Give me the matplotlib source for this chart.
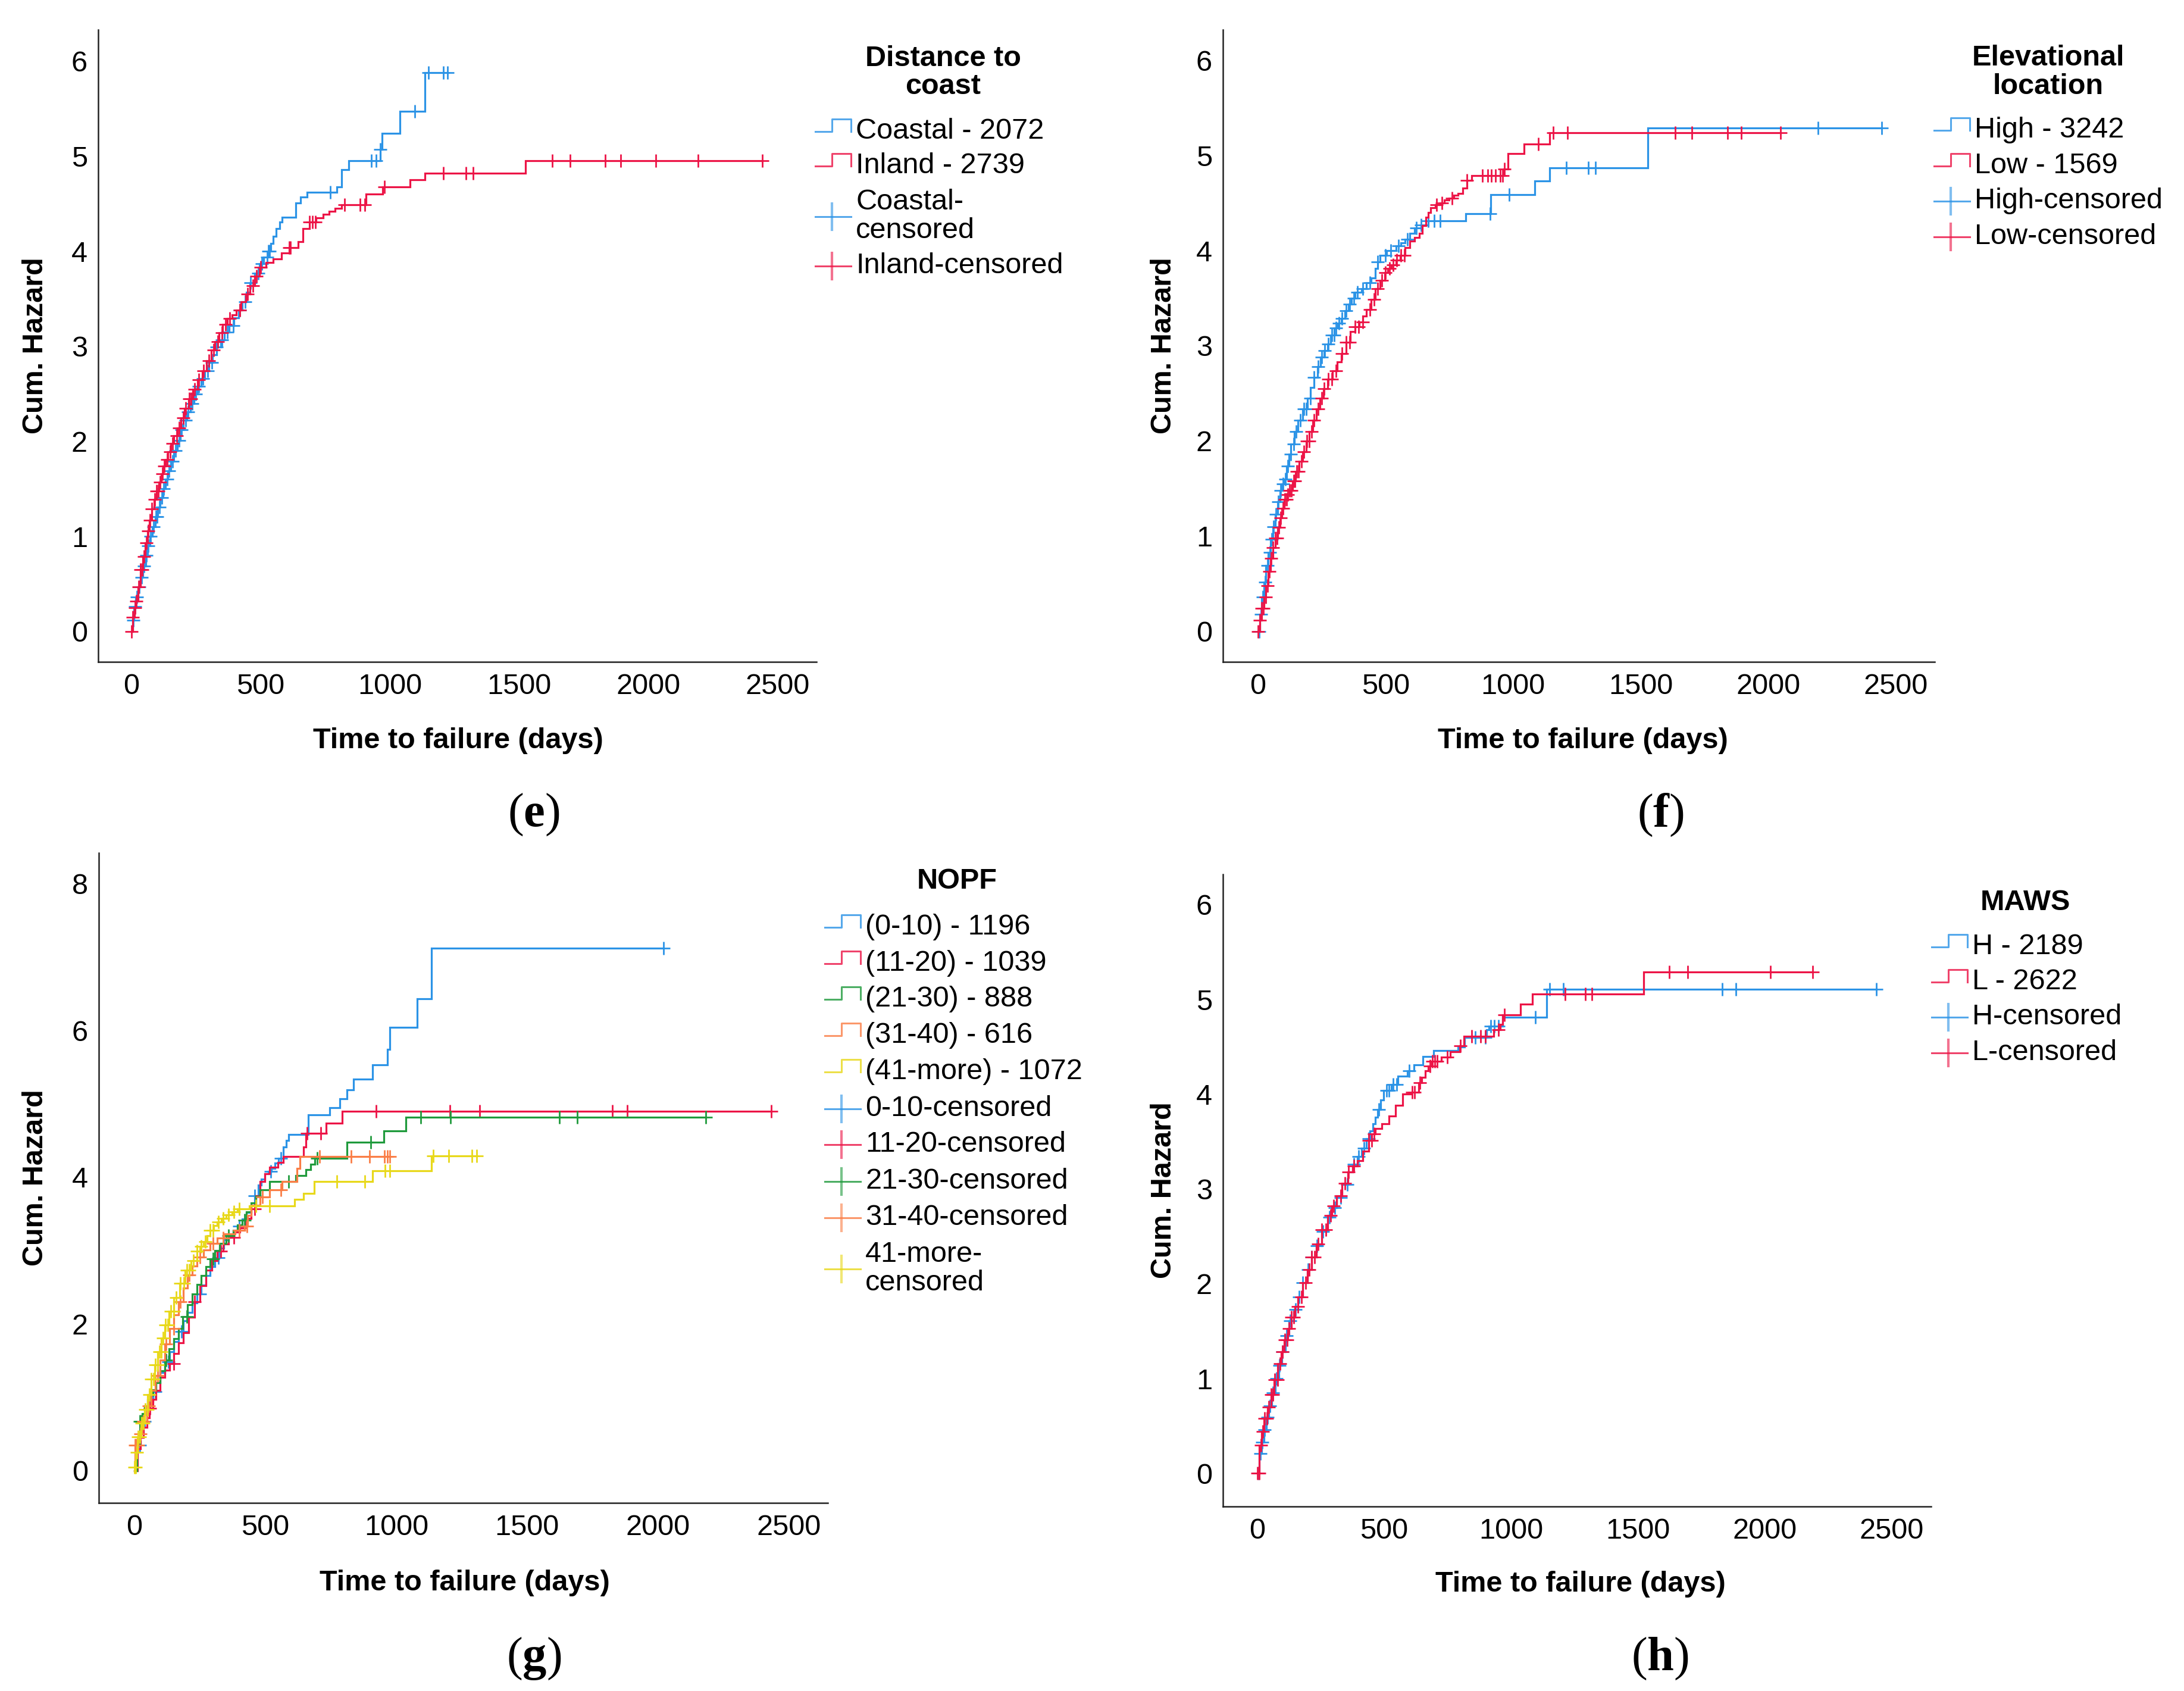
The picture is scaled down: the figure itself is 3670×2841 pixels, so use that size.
import numpy as np
import matplotlib
matplotlib.use('Agg')
import matplotlib.pyplot as plt
from matplotlib.lines import Line2D

# ---------------- DATA ----------------
x_ticks = [0, 500, 1000, 1500, 2000, 2500]
y_ticks_6 = [0, 1, 2, 3, 4, 5, 6]
y_ticks_8 = [0, 2, 4, 6, 8]

# (e) Distance to coast
e_coastal_t = [0, 5, 10, 18, 26, 35, 45, 55, 64, 73, 82, 92, 102, 112, 122, 132, 142, 153, 165, 177,
               190, 202, 214, 228, 242, 256, 270, 285, 300, 315, 330, 345, 360, 378, 396, 415, 430, 445,
               460, 478, 495, 512, 530, 540, 548, 560, 575, 583, 636, 654, 680, 796, 813, 840, 964, 969,
               1038, 1135]
e_coastal_h = [0, 0.12, 0.26, 0.36, 0.47, 0.57, 0.69, 0.80, 0.90, 1.00, 1.10, 1.21, 1.31, 1.41, 1.50, 1.60,
               1.69, 1.79, 1.90, 2.01, 2.12, 2.22, 2.31, 2.40, 2.50, 2.58, 2.66, 2.74, 2.83, 2.91, 2.99, 3.07,
               3.15, 3.22, 3.30, 3.38, 3.47, 3.57, 3.67, 3.77, 3.87, 3.94, 4.00, 4.08, 4.16, 4.24, 4.31, 4.36,
               4.51, 4.57, 4.62, 4.68, 4.86, 4.95, 5.07, 5.24, 5.47, 5.88]
e_coastal_end = 1223
e_coastal_cens = [8, 15, 22, 30, 40, 50, 58, 66, 75, 85, 95, 100, 108, 118, 125, 138, 145, 160, 172, 185,
                  195, 210, 220, 235, 250, 262, 278, 295, 312, 330, 350, 372, 395, 420, 440, 462, 490, 505,
                  525, 530, 535, 769, 928, 946, 964, 1096, 1149, 1207, 1223]

e_inland_t = [0, 6, 12, 18, 26, 35, 44, 53, 62, 71, 80, 88, 97, 106, 115, 124, 133, 141, 153, 165, 177,
              192, 206, 221, 238, 256, 274, 291, 309, 324, 339, 354, 372, 390, 407, 425, 442, 460, 478, 495,
              520, 548, 580, 610, 645, 663, 690, 715, 743, 765, 787, 813, 907, 972, 1079, 1135, 1524]
e_inland_h = [0, 0.15, 0.25, 0.32, 0.47, 0.65, 0.79, 0.93, 1.06, 1.17, 1.29, 1.39, 1.48, 1.57, 1.66, 1.74,
              1.81, 1.89, 1.98, 2.06, 2.14, 2.25, 2.35, 2.45, 2.55, 2.65, 2.74, 2.85, 2.96, 3.05, 3.14, 3.23,
              3.29, 3.33, 3.38, 3.47, 3.55, 3.64, 3.74, 3.83, 3.88, 3.92, 3.98, 4.04, 4.10, 4.24, 4.31, 4.35,
              4.39, 4.42, 4.45, 4.49, 4.60, 4.68, 4.75, 4.82, 4.95]
e_inland_end = 2440
e_inland_cens = [0, 6, 14, 20, 28, 36, 42, 50, 58, 66, 72, 80, 90, 98, 105, 112, 120, 128, 140, 150, 160,
                 175, 185, 200, 210, 225, 232, 245, 260, 280, 300, 318, 335, 350, 365, 380, 420, 450, 470,
                 485, 500, 610, 615, 690, 700, 712, 826, 884, 902, 978, 1207, 1294, 1321, 1627, 1697, 1833,
                 1892, 2028, 2192, 2440]

# (f) Elevational location
f_high_t = [0, 7, 14, 23, 32, 41, 50, 59, 68, 77, 86, 95, 104, 113, 121, 130, 143, 157, 175, 193, 206,
            220, 233, 246, 260, 273, 286, 300, 313, 327, 340, 354, 367, 380, 407, 425, 443, 461, 470, 479,
            505, 541, 560, 577, 595, 614, 640, 668, 815, 913, 1085, 1143, 1528]
f_high_h = [0, 0.18, 0.36, 0.52, 0.69, 0.83, 0.97, 1.10, 1.23, 1.36, 1.48, 1.55, 1.60, 1.74, 1.86, 1.97,
            2.10, 2.22, 2.34, 2.45, 2.56, 2.67, 2.78, 2.88, 2.95, 3.02, 3.11, 3.19, 3.24, 3.29, 3.37, 3.44,
            3.50, 3.56, 3.60, 3.66, 3.71, 3.81, 3.88, 3.95, 4.00, 4.05, 4.08, 4.12, 4.18, 4.24, 4.27, 4.31,
            4.39, 4.59, 4.73, 4.87, 5.29]
f_high_end = 2445
f_high_cens = [5, 12, 20, 28, 38, 48, 55, 62, 70, 80, 90, 98, 108, 118, 128, 140, 150, 165, 180, 190, 205,
               220, 235, 250, 262, 275, 290, 298, 305, 318, 330, 345, 360, 375, 390, 410, 440, 470, 500, 520,
               550, 585, 620, 640, 668, 690, 713, 910, 985, 1209, 1295, 1322, 2196, 2445]

f_low_t = [0, 7, 14, 23, 32, 41, 50, 59, 68, 77, 86, 95, 104, 115, 125, 137, 148, 162, 175, 189, 202, 216,
           229, 243, 256, 274, 292, 310, 327, 345, 363, 380, 398, 412, 425, 443, 461, 479, 497, 510, 523,
           541, 559, 577, 595, 614, 632, 645, 659, 668, 677, 695, 713, 731, 749, 767, 784, 802, 820, 838,
           963, 981, 1044, 1143]
f_low_h = [0, 0.12, 0.24, 0.36, 0.48, 0.63, 0.77, 0.88, 0.98, 1.09, 1.19, 1.29, 1.39, 1.44, 1.48, 1.58,
           1.68, 1.79, 1.89, 2.00, 2.10, 2.22, 2.34, 2.45, 2.55, 2.65, 2.74, 2.83, 2.92, 3.04, 3.15, 3.20,
           3.25, 3.31, 3.38, 3.49, 3.60, 3.69, 3.77, 3.81, 3.85, 3.90, 3.95, 4.03, 4.10, 4.14, 4.18, 4.26,
           4.35, 4.40, 4.45, 4.48, 4.50, 4.53, 4.55, 4.58, 4.60, 4.66, 4.74, 4.79, 4.86, 5.02, 5.12, 5.24]
f_low_end = 2047
f_low_cens = [0, 8, 15, 22, 30, 38, 45, 52, 60, 68, 75, 82, 90, 98, 105, 112, 118, 125, 132, 140, 145, 152,
              160, 170, 180, 192, 200, 210, 220, 235, 250, 260, 275, 290, 305, 330, 345, 360, 380, 395, 410,
              440, 455, 470, 485, 500, 515, 530, 545, 560, 575, 700, 720, 760, 820, 880, 900, 915, 930, 950,
              958, 966, 1098, 1157, 1214, 1635, 1701, 1841, 1895, 2047]

# (g) NOPF
g_0_10_t = [0, 12, 24, 35, 47, 58, 70, 82, 99, 116, 134, 151, 168, 186, 203, 220, 238, 255, 273, 290, 307,
            325, 342, 360, 377, 394, 411, 428, 446, 459, 472, 485, 498, 511, 524, 537, 550, 568, 580, 589,
            663, 745, 785, 811, 837, 910, 967, 976, 1080, 1134]
g_0_10_h = [0, 0.35, 0.52, 0.67, 0.83, 0.95, 1.08, 1.20, 1.34, 1.48, 1.62, 1.76, 1.90, 2.04, 2.16, 2.29,
            2.41, 2.53, 2.66, 2.78, 2.90, 3.03, 3.15, 3.21, 3.27, 3.33, 3.43, 3.52, 3.62, 3.75, 3.89, 3.97,
            4.05, 4.08, 4.12, 4.19, 4.26, 4.41, 4.50, 4.58, 4.85, 4.95, 5.07, 5.19, 5.34, 5.53, 5.74, 6.04,
            6.43, 7.12]
g_0_10_end = 2021
g_0_10_cens = [20, 40, 80, 130, 180, 250, 320, 400, 460, 520, 560, 2021]

g_11_20_t = [0, 12, 24, 35, 47, 58, 70, 82, 99, 116, 134, 151, 168, 186, 207, 229, 251, 273, 295, 316, 338,
             359, 381, 403, 424, 446, 463, 481, 498, 516, 547, 568, 646, 655, 733, 793]
g_11_20_h = [0, 0.30, 0.45, 0.59, 0.72, 0.85, 0.97, 1.09, 1.27, 1.37, 1.46, 1.60, 1.74, 1.88, 2.09, 2.30,
             2.52, 2.73, 2.86, 2.99, 3.09, 3.18, 3.25, 3.31, 3.44, 3.57, 3.75, 3.94, 4.05, 4.14, 4.20, 4.28,
             4.41, 4.60, 4.74, 4.90]
g_11_20_end = 2431
g_11_20_cens = [60, 150, 230, 330, 380, 460, 660, 712, 924, 1205, 1319, 1826, 1882, 2431]

g_21_30_t = [0, 10, 21, 30, 40, 50, 60, 70, 82, 99, 116, 133, 150, 168, 185, 203, 220, 238, 255, 273, 290,
             307, 325, 351, 377, 394, 411, 428, 446, 463, 481, 516, 616, 655, 672, 689, 811, 953, 1036]
g_21_30_h = [0, 0.35, 0.67, 0.78, 0.88, 0.96, 1.03, 1.10, 1.20, 1.36, 1.51, 1.66, 1.80, 1.94, 2.10, 2.26,
             2.41, 2.54, 2.66, 2.78, 2.89, 3.00, 3.10, 3.20, 3.28, 3.35, 3.41, 3.53, 3.65, 3.74, 3.83, 3.94,
             4.02, 4.10, 4.18, 4.26, 4.48, 4.63, 4.82]
g_21_30_end = 2182
g_21_30_cens = [21, 25, 120, 200, 300, 360, 420, 590, 698, 903, 1094, 1207, 1622, 1691, 2182]

g_31_40_t = [0, 3, 15, 30, 47, 64, 81, 99, 116, 134, 151, 168, 186, 203, 220, 238, 264, 290, 316, 342, 385,
             420, 433, 446, 481, 516, 564, 620, 632]
g_31_40_h = [0, 0.35, 0.50, 0.67, 0.88, 1.09, 1.30, 1.51, 1.73, 1.94, 2.12, 2.30, 2.49, 2.67, 2.79, 2.91,
             3.01, 3.10, 3.17, 3.23, 3.28, 3.33, 3.48, 3.62, 3.73, 3.83, 3.94, 4.12, 4.28]
g_31_40_end = 976
g_31_40_cens = [3, 8, 14, 22, 35, 55, 90, 120, 150, 175, 210, 250, 300, 340, 400, 430, 490, 560, 707, 828,
                898, 955, 967, 976]

g_41_more_t = [0, 6, 12, 25, 38, 51, 64, 77, 90, 103, 116, 133, 151, 172, 194, 216, 238, 251, 264, 277,
               290, 303, 316, 333, 351, 372, 394, 438, 611, 646, 686, 910, 1135]
g_41_more_h = [0.05, 0.25, 0.46, 0.65, 0.83, 1.04, 1.25, 1.44, 1.62, 1.81, 1.99, 2.17, 2.36, 2.55, 2.73,
               2.86, 2.99, 3.06, 3.12, 3.20, 3.28, 3.34, 3.39, 3.44, 3.49, 3.53, 3.57, 3.61, 3.70, 3.78,
               3.94, 4.09, 4.29]
g_41_more_end = 1306
g_41_more_cens = [0, 5, 10, 15, 20, 28, 35, 42, 50, 58, 65, 72, 80, 88, 95, 102, 110, 118, 128, 140, 150,
                  160, 175, 190, 200, 210, 225, 240, 255, 270, 290, 300, 320, 340, 360, 380, 400, 464, 516,
                  773, 880, 958, 976, 1141, 1201, 1288, 1306]

# (h) MAWS
h_H_t = [0, 9, 18, 27, 36, 45, 58, 72, 85, 98, 112, 125, 143, 161, 179, 197, 215, 233, 255, 277, 295, 313,
         335, 358, 376, 394, 412, 430, 443, 456, 465, 474, 486, 498, 528, 555, 591, 618, 653, 695, 791, 818,
         904, 913, 967, 1140]
h_H_h = [0, 0.21, 0.33, 0.46, 0.59, 0.71, 0.85, 1.00, 1.14, 1.28, 1.45, 1.61, 1.73, 1.86, 2.01, 2.15, 2.28,
         2.40, 2.55, 2.70, 2.80, 2.91, 3.05, 3.18, 3.26, 3.34, 3.43, 3.53, 3.61, 3.69, 3.76, 3.84, 3.94, 4.04,
         4.10, 4.19, 4.25, 4.31, 4.40, 4.46, 4.50, 4.60, 4.68, 4.72, 4.81, 5.11]
h_H_end = 2440
h_H_cens = [5, 12, 20, 30, 40, 50, 62, 75, 88, 100, 115, 130, 150, 165, 180, 200, 215, 235, 260, 285, 305,
            330, 355, 380, 400, 420, 440, 480, 510, 520, 535, 550, 600, 860, 900, 920, 935, 950, 1096, 1151,
            1205, 1831, 1885, 2440]

h_L_t = [0, 9, 18, 27, 40, 54, 67, 81, 94, 107, 121, 134, 148, 161, 179, 197, 215, 233, 255, 277, 295, 313,
         335, 358, 376, 394, 416, 439, 452, 465, 492, 519, 546, 573, 609, 636, 649, 662, 675, 689, 725, 761,
         797, 815, 931, 958, 967, 1038, 1083, 1522]
h_L_h = [0, 0.30, 0.44, 0.58, 0.70, 0.83, 0.99, 1.16, 1.28, 1.41, 1.53, 1.65, 1.76, 1.86, 2.01, 2.15, 2.28,
         2.42, 2.57, 2.72, 2.82, 2.93, 3.06, 3.18, 3.24, 3.30, 3.40, 3.51, 3.58, 3.64, 3.69, 3.77, 3.88, 4.00,
         4.02, 4.12, 4.18, 4.25, 4.30, 4.35, 4.39, 4.45, 4.51, 4.61, 4.68, 4.74, 4.84, 4.95, 5.06, 5.29]
h_L_end = 2188
h_L_cens = [0, 7, 14, 22, 30, 38, 45, 55, 62, 70, 80, 90, 100, 110, 118, 125, 135, 145, 160, 175, 190, 205,
            215, 225, 240, 255, 270, 290, 300, 330, 345, 360, 380, 440, 450, 460, 610, 620, 640, 680, 690, 700,
            710, 750, 800, 845, 880, 900, 950, 975, 1212, 1293, 1319, 1624, 1695, 2023, 2188]

# ---------------- STYLE / LAYOUT ----------------
BLUE = '#2b93e6'
RED = '#ec1446'
GREEN = '#1f9a3c'
ORANGE = '#fa7d45'
YELLOW = '#e8d81a'

W, HP = 3670, 2841
plt.rcParams['font.family'] = ['Liberation Sans', 'DejaVu Sans']
plt.rcParams['mathtext.fontset'] = 'custom'
plt.rcParams['mathtext.rm'] = 'Liberation Serif'
plt.rcParams['mathtext.bf'] = 'Liberation Serif:bold'

FS = 35
BL = 12  # baseline offset from visual text centre (px)
fig = plt.figure(figsize=(W / 100, HP / 100), dpi=100)


def fx(x):
    return x / W


def fy(y):
    return 1 - y / HP


def make_axes(l, t, r, b, xlim, ylim, yticks):
    ax = fig.add_axes([fx(l), fy(b), (r - l) / W, (b - t) / HP])
    ax.set_xlim(*xlim)
    ax.set_ylim(*ylim)
    ax.set_xticks(x_ticks)
    ax.set_yticks(yticks)
    for s in ['top', 'right']:
        ax.spines[s].set_visible(False)
    for s in ['left', 'bottom']:
        ax.spines[s].set_linewidth(1.8)
        ax.spines[s].set_color('#222222')
    ax.tick_params(axis='both', length=0, labelsize=FS)
    ax.tick_params(axis='x', pad=14)
    ax.tick_params(axis='y', pad=13)
    return ax


def plot_series(ax, t, h, end, cens, color, z):
    tt = list(t) + [end]
    hh = list(h) + [h[-1]]
    ax.step(tt, hh, where='post', color=color, lw=2.3, zorder=z, solid_joinstyle='miter')
    idx = np.searchsorted(np.asarray(t), np.asarray(cens), side='right') - 1
    ch = np.asarray(h)[idx]
    ax.plot(cens, ch, linestyle='none', marker='+', markersize=16, markeredgewidth=2.0,
            color=color, zorder=z + 0.5)


def line_handle(tx, yc, color):
    fig.add_artist(Line2D([fx(tx - 68), fx(tx - 40), fx(tx - 40), fx(tx - 8), fx(tx - 8)],
                          [fy(yc), fy(yc), fy(yc - 21), fy(yc - 21), fy(yc)],
                          transform=fig.transFigure, color=color, lw=2.2, alpha=0.8))


def cens_handle(tx, yc, color):
    fig.add_artist(Line2D([fx(tx - 68), fx(tx - 8)], [fy(yc), fy(yc)],
                          transform=fig.transFigure, color=color, lw=2.2, alpha=0.8))
    fig.add_artist(Line2D([fx(tx - 40), fx(tx - 40)], [fy(yc - 22), fy(yc + 22)],
                          transform=fig.transFigure, color=color, lw=3.0, alpha=0.6))


def draw_legend(title_lines, title_x, title_ys, tx, entries):
    for line, ty in zip(title_lines, title_ys):
        fig.text(fx(title_x), fy(ty + BL), line, ha='center', va='baseline',
                 fontsize=FS, fontweight='bold')
    for lines, color, kind, ys in entries:
        for line, ly in zip(lines, ys):
            fig.text(fx(tx), fy(ly + BL), line, ha='left', va='baseline', fontsize=FS)
        yc = sum(ys) / len(ys)
        if kind == 'line':
            line_handle(tx, yc, color)
        else:
            cens_handle(tx, yc, color)


def axis_labels(xl_x, xl_y, yl_x, yl_y):
    fig.text(fx(xl_x), fy(xl_y + BL), 'Time to failure (days)', ha='center', va='baseline',
             fontsize=FS, fontweight='bold')
    fig.text(fx(yl_x), fy(yl_y), 'Cum. Hazard', ha='center', va='center', rotation=90,
             fontsize=FS, fontweight='bold')


def panel_label(x, y, letter):
    fig.text(fx(x), fy(y), r'$\mathrm{(}\mathbf{' + letter + r'}\mathrm{)}$', ha='center',
             va='center', fontsize=58)


# ---- (e)
ax_e = make_axes(165, 50, 1372, 1112, (-128, 2650), (-0.32, 6.33), y_ticks_6)
plot_series(ax_e, e_coastal_t, e_coastal_h, e_coastal_end, e_coastal_cens, BLUE, 2)
plot_series(ax_e, e_inland_t, e_inland_h, e_inland_end, e_inland_cens, RED, 3)
axis_labels(770, 1245, 59, 581)
draw_legend(['Distance to', 'coast'], 1585, [99, 146], 1438, [
    (['Coastal - 2072'], BLUE, 'line', [221]),
    (['Inland - 2739'], RED, 'line', [279]),
    (['Coastal-', 'censored'], BLUE, 'cens', [340, 388]),
    (['Inland-censored'], RED, 'cens', [447]),
])
panel_label(897, 1369, 'e')

# ---- (f)
ax_f = make_axes(2055, 50, 3251, 1112, (-137, 2652), (-0.32, 6.32), y_ticks_6)
plot_series(ax_f, f_high_t, f_high_h, f_high_end, f_high_cens, BLUE, 2)
plot_series(ax_f, f_low_t, f_low_h, f_low_end, f_low_cens, RED, 3)
axis_labels(2660, 1245, 1955, 581)
draw_legend(['Elevational', 'location'], 3442, [98, 146], 3318, [
    (['High - 3242'], BLUE, 'line', [219]),
    (['Low - 1569'], RED, 'line', [279]),
    (['High-censored'], BLUE, 'cens', [338]),
    (['Low-censored'], RED, 'cens', [398]),
])
panel_label(2790, 1369, 'f')

# ---- (g)
ax_g = make_axes(166, 1433, 1391, 2525, (-136, 2648), (-0.44, 8.42), y_ticks_8)
plot_series(ax_g, g_0_10_t, g_0_10_h, g_0_10_end, g_0_10_cens, BLUE, 2)
plot_series(ax_g, g_11_20_t, g_11_20_h, g_11_20_end, g_11_20_cens, RED, 3)
plot_series(ax_g, g_21_30_t, g_21_30_h, g_21_30_end, g_21_30_cens, GREEN, 4)
plot_series(ax_g, g_31_40_t, g_31_40_h, g_31_40_end, g_31_40_cens, ORANGE, 5)
plot_series(ax_g, g_41_more_t, g_41_more_h, g_41_more_end, g_41_more_cens, YELLOW, 6)
axis_labels(781, 2660, 59, 1979)
draw_legend(['NOPF'], 1608, [1481], 1454, [
    (['(0-10) - 1196'], BLUE, 'line', [1558]),
    (['(11-20) - 1039'], RED, 'line', [1619]),
    (['(21-30) - 888'], GREEN, 'line', [1679]),
    (['(31-40) - 616'], ORANGE, 'line', [1740]),
    (['(41-more) - 1072'], YELLOW, 'line', [1801]),
    (['0-10-censored'], BLUE, 'cens', [1863]),
    (['11-20-censored'], RED, 'cens', [1923]),
    (['21-30-censored'], GREEN, 'cens', [1985]),
    (['31-40-censored'], ORANGE, 'cens', [2046]),
    (['41-more-', 'censored'], YELLOW, 'cens', [2108, 2156]),
])
panel_label(897, 2787, 'g')

# ---- (h)
ax_h = make_axes(2055, 1469, 3245, 2531, (-135, 2655), (-0.35, 6.32), y_ticks_6)
plot_series(ax_h, h_H_t, h_H_h, h_H_end, h_H_cens, BLUE, 2)
plot_series(ax_h, h_L_t, h_L_h, h_L_end, h_L_cens, RED, 3)
axis_labels(2656, 2662, 1955, 2000)
draw_legend(['MAWS'], 3403, [1517], 3314, [
    (['H - 2189'], BLUE, 'line', [1591]),
    (['L - 2622'], RED, 'line', [1650]),
    (['H-censored'], BLUE, 'cens', [1709]),
    (['L-censored'], RED, 'cens', [1769]),
])
panel_label(2789, 2787, 'h')

fig.savefig('out.png', dpi=100, facecolor='white')
